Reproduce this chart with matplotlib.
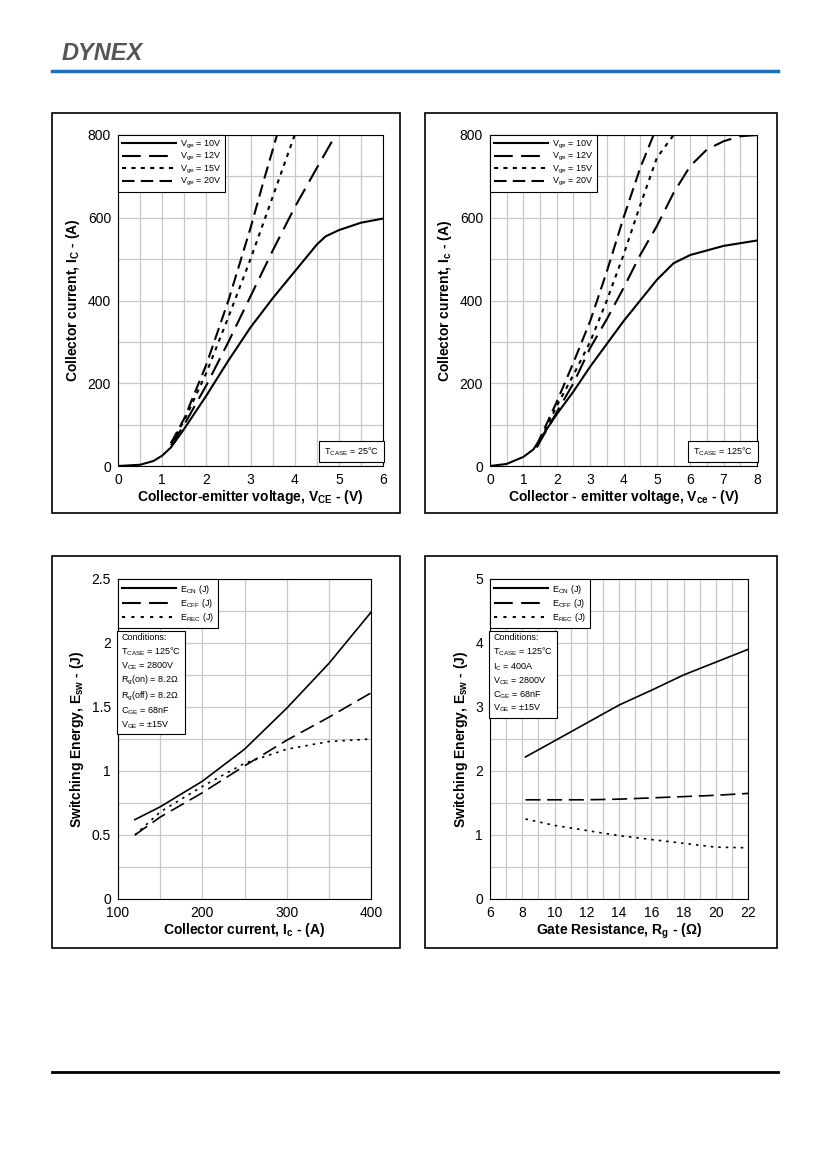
import numpy as np
import matplotlib as mpl
mpl.use('Agg')
import matplotlib.pyplot as plt
from matplotlib.patches import Rectangle
from matplotlib.lines import Line2D

plt.rcParams['font.family'] = ['Liberation Sans', 'DejaVu Sans']
plt.rcParams['mathtext.default'] = 'regular'

# --- top left: output characteristics, Tcase = 25C
tl_x10 = [0, 0.5, 0.8, 1.0, 1.2, 1.5, 2.0, 2.5, 3.0, 3.5, 4.0, 4.5, 4.7, 5.0, 5.5, 6.0]
tl_y10 = [0, 3, 12, 25, 45, 90, 170, 255, 335, 405, 470, 535, 555, 570, 588, 598]
tl_x12 = [1.2, 1.5, 2.0, 2.5, 3.0, 3.5, 4.0, 4.5, 4.9]
tl_y12 = [50, 100, 195, 300, 410, 520, 625, 720, 795]
tl_x15 = [1.2, 1.5, 2.0, 2.5, 3.0, 3.5, 4.0]
tl_y15 = [55, 110, 225, 360, 500, 650, 800]
tl_x20 = [1.2, 1.5, 2.0, 2.5, 3.0, 3.3, 3.6]
tl_y20 = [55, 115, 245, 400, 575, 690, 800]

# --- top right: output characteristics, Tcase = 125C
tr_x10 = [0, 0.5, 1.0, 1.3, 1.5, 2.0, 2.5, 3.0, 3.5, 4.0, 4.5, 5.0, 5.5, 6.0, 7.0, 8.0]
tr_y10 = [0, 5, 22, 40, 65, 125, 180, 240, 295, 350, 400, 450, 490, 510, 532, 545]
tr_x12 = [1.4, 2.0, 2.5, 3.0, 3.5, 4.0, 4.5, 5.0, 5.5, 6.0, 6.5, 7.0, 7.5, 8.0]
tr_y12 = [45, 130, 200, 285, 355, 430, 510, 580, 660, 725, 765, 785, 797, 800]
tr_x15 = [1.4, 2.0, 2.5, 3.0, 3.5, 4.0, 4.5, 5.0, 5.5]
tr_y15 = [45, 145, 220, 300, 400, 510, 630, 745, 800]
tr_x20 = [1.4, 2.0, 2.5, 3.0, 3.5, 4.0, 4.5, 4.9]
tr_y20 = [50, 155, 250, 350, 470, 600, 720, 800]

# --- bottom left: energy vs collector current
bl_ic = [120, 150, 200, 250, 300, 350, 400]
bl_eon = [0.62, 0.72, 0.92, 1.17, 1.49, 1.84, 2.24]
bl_eoff = [0.50, 0.64, 0.83, 1.04, 1.24, 1.42, 1.61]
bl_erec = [0.50, 0.68, 0.88, 1.06, 1.17, 1.23, 1.25]

# --- bottom right: energy vs gate resistance
br_rg = [8.2, 10, 12, 14, 16, 18, 20, 22]
br_eon = [2.22, 2.47, 2.75, 3.03, 3.26, 3.50, 3.70, 3.90]
br_eoff = [1.55, 1.55, 1.55, 1.56, 1.58, 1.60, 1.62, 1.65]
br_erec = [1.25, 1.15, 1.07, 0.99, 0.93, 0.87, 0.81, 0.80]

W, H = 827, 1169
fig = plt.figure(figsize=(W / 100, H / 100), dpi=100)

def fax(x0, y0, x1, y1):
    return fig.add_axes([x0 / W, 1 - y1 / H, (x1 - x0) / W, (y1 - y0) / H])

def frame(x0, y0, x1, y1):
    fig.patches.append(Rectangle((x0 / W, 1 - y1 / H), (x1 - x0) / W, (y1 - y0) / H,
                                 transform=fig.transFigure, fill=False, ec='black', lw=1.2))

def style(ax, xlim, ylim, xmaj, xmin, ymaj, ymin):
    ax.set_xlim(*xlim)
    ax.set_ylim(*ylim)
    ax.set_xticks(np.arange(xlim[0], xlim[1] + 1e-9, xmaj))
    ax.set_xticks(np.arange(xlim[0], xlim[1] + 1e-9, xmin), minor=True)
    ax.set_yticks(np.arange(ylim[0], ylim[1] + 1e-9, ymaj))
    ax.set_yticks(np.arange(ylim[0], ylim[1] + 1e-9, ymin), minor=True)
    ax.grid(which='both', color='#c8c8c8', lw=0.9)
    ax.set_axisbelow(True)
    ax.tick_params(which='both', length=0, labelsize=10, pad=5)
    for s in ax.spines.values():
        s.set_linewidth(0.8)

lsty = ['solid', (0, (9, 4)), (0, (2, 2.5)), (0, (6, 3))]
vlabels = ['V$_{ge}$ = 10V', 'V$_{ge}$ = 12V', 'V$_{ge}$ = 15V', 'V$_{ge}$ = 20V']

def out_panel(ax, xs, ys, xmax, tcase, xlabel, ylabel):
    for x, y, ls in zip(xs, ys, lsty):
        ax.plot(x, y, color='black', lw=1.5, ls=ls)
    style(ax, (0, xmax), (0, 800), 1, 0.5, 200, 100)
    ax.set_xlabel(xlabel, fontsize=10, fontweight='bold', labelpad=1)
    ax.set_ylabel(ylabel, fontsize=10, fontweight='bold')
    handles = [Line2D([], [], color='black', lw=1.5, ls=ls) for ls in lsty]
    leg = ax.legend(handles, vlabels, loc='upper left', fontsize=6.5, fancybox=False,
                    edgecolor='black', framealpha=1, handlelength=6, borderaxespad=0,
                    labelspacing=0.05, handletextpad=0.5)
    leg.get_frame().set_linewidth(0.8)
    ax.text(0.985, 0.025, 'T$_{CASE}$ = %s°C' % tcase, transform=ax.transAxes, ha='right',
            va='bottom', fontsize=6.5,
            bbox=dict(boxstyle='square,pad=0.5', fc='white', ec='black', lw=0.8))

ax1 = fax(118, 135, 383, 466)
out_panel(ax1, [tl_x10, tl_x12, tl_x15, tl_x20], [tl_y10, tl_y12, tl_y15, tl_y20], 6, 25,
          'Collector-emitter voltage, V$_{CE}$ - (V)', 'Collector current, I$_C$ - (A)')
ax2 = fax(490, 135, 757, 466)
out_panel(ax2, [tr_x10, tr_x12, tr_x15, tr_x20], [tr_y10, tr_y12, tr_y15, tr_y20], 8, 125,
          'Collector - emitter voltage, V$_{ce}$ - (V)', 'Collector current, I$_c$ - (A)')

esty = ['solid', (0, (9, 4)), (0, (1.5, 3))]
elabels = ['E$_{ON}$ (J)', 'E$_{OFF}$ (J)', 'E$_{REC}$ (J)']

def energy_panel(ax, x, ys, cond, xlabel):
    for y, ls in zip(ys, esty):
        ax.plot(x, y, color='black', lw=1.2, ls=ls)
    handles = [Line2D([], [], color='black', lw=1.5, ls=ls) for ls in esty]
    leg = ax.legend(handles, elabels, loc='upper left', fontsize=6.5, fancybox=False,
                    edgecolor='black', framealpha=1, handlelength=6, borderaxespad=0,
                    labelspacing=0.15, handletextpad=0.5)
    leg.get_frame().set_linewidth(0.8)
    ax.text(0.012, 0.83, cond, transform=ax.transAxes, ha='left', va='top', fontsize=6.5,
            linespacing=1.3,
            bbox=dict(boxstyle='square,pad=0.4', fc='white', ec='black', lw=0.8))
    ax.set_xlabel(xlabel, fontsize=10, fontweight='bold', labelpad=1)
    ax.set_ylabel('Switching Energy, E$_{sw}$ - (J)', fontsize=10, fontweight='bold')

ax3 = fax(118, 579, 371, 899)
energy_panel(ax3, bl_ic, [bl_eon, bl_eoff, bl_erec],
             'Conditions:\nT$_{CASE}$ = 125°C\nV$_{CE}$ = 2800V\nR$_g$(on) = 8.2Ω\n'
             'R$_g$(off) = 8.2Ω\nC$_{GE}$ = 68nF\nV$_{GE}$ = ±15V',
             'Collector current, I$_c$ - (A)')
style(ax3, (100, 400), (0, 2.5), 100, 50, 0.5, 0.25)
ax3.set_yticklabels(['0', '0.5', '1', '1.5', '2', '2.5'])

ax4 = fax(490, 579, 748, 899)
energy_panel(ax4, br_rg, [br_eon, br_eoff, br_erec],
             'Conditions:\nT$_{CASE}$ = 125°C\nI$_C$ = 400A\nV$_{CE}$ = 2800V\n'
             'C$_{GE}$ = 68nF\nV$_{GE}$ = ±15V',
             'Gate Resistance, R$_g$ - (Ω)')
style(ax4, (6, 22), (0, 5), 2, 1, 1, 0.5)

frame(52, 113, 400, 513)
frame(425, 113, 777, 513)
frame(52, 556, 400, 948)
frame(425, 556, 777, 948)

# header and footer
fig.text(62 / W, 1 - 53 / H, 'DYNEX', fontsize=17, fontweight='bold', style='italic',
         color='#555555', va='center')
fig.add_artist(Line2D([52 / W, 778 / W], [1 - 71 / H] * 2, color='#1f6fc0', lw=2.5))
fig.add_artist(Line2D([52 / W, 778 / W], [1 - 1072 / H] * 2, color='black', lw=2))

fig.savefig('out.png', dpi=100)
